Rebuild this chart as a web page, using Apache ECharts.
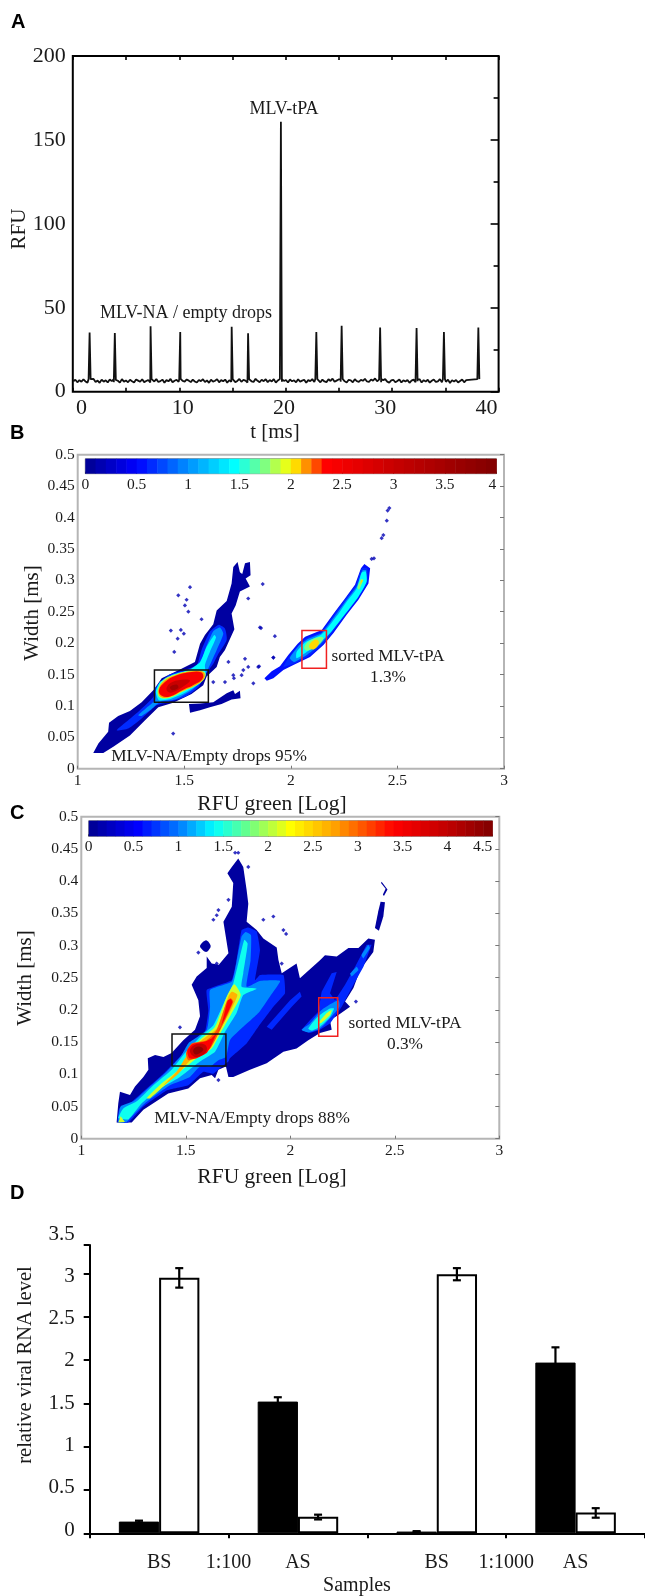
<!DOCTYPE html>
<html><head><meta charset="utf-8">
<style>html,body{margin:0;padding:0;background:#fff}#c{width:645px;height:1596px}</style>
<script src="https://cdn.jsdelivr.net/npm/echarts@6/dist/echarts.min.js"></script>
</head><body><div id="c"></div>
<script>
// ---------- Panel A: trace ----------
const spikeTimes = [0.81,3.3,6.83,9.76,14.84,16.46,19.7,23.2,25.7,29.5,33.1,35.8,39.2];
const spikePeaks = [35.2,35,39,35.5,38.7,34.8,160.9,35.5,39.3,38.3,38,35.5,38.3];
const baselineStart = -0.8, baselineStep = 0.2;
const baselineRFU = [
6.2,7.1,5.6,6.9,5.9,7.4,6.1,5.4,7.0,6.4,7.6,5.8,6.6,5.3,7.2,6.0,6.8,5.5,7.3,6.3,
5.7,7.0,6.5,5.4,7.5,6.0,6.7,5.6,7.1,6.2,5.5,7.3,6.6,5.9,7.4,5.7,6.4,7.0,5.5,6.8,
6.1,7.5,5.8,6.3,7.2,5.4,6.9,6.2,7.6,5.6,6.5,7.1,5.9,7.7,6.4,6.0,7.3,6.6,5.7,7.2,
6.1,5.5,7.0,6.3,7.4,5.8,6.7,5.3,7.1,6.0,6.5,7.5,5.6,6.9,6.2,7.2,5.4,6.8,6.0,7.3,
5.7,6.4,7.6,5.9,7.0,6.6,5.5,7.4,6.2,5.8,7.7,6.5,5.6,7.1,6.3,7.4,5.7,6.9,6.1,7.5,
5.4,6.7,7.2,5.9,6.4,7.0,5.5,7.3,6.2,6.8,5.6,7.4,6.0,6.6,7.1,5.3,6.9,6.3,7.5,5.8,
6.5,7.0,5.6,7.2,6.1,5.7,7.4,6.4,7.8,5.9,6.6,7.3,6.0,7.6,6.2,5.5,7.1,6.8,5.6,7.4,
6.3,5.9,7.0,6.5,7.7,6.1,5.8,7.3,6.6,7.9,6.2,7.2,5.7,6.9,7.5,6.0,5.4,6.7,7.1,5.6,
6.4,7.3,5.5,6.8,6.1,7.0,5.3,6.6,7.2,5.7,6.3,7.4,5.5,6.9,6.0,7.1,5.4,6.5,7.3,5.8,
6.2,7.5,5.6,6.7,5.9,7.2,5.2,6.8,6.1,7.0,5.5,6.4,7.3,5.6,6.9
];
const xTicksLabelA = [0,10,20,30,40];

// ---------- Panel B: contours (RFU green, width) ----------
const bOuter = [[1.073,.025],[1.097,.040],[1.143,.059],[1.147,.073],[1.190,.084],[1.245,.092],[1.300,.106],[1.358,.126],[1.394,.144],[1.480,.158],[1.550,.170],[1.574,.199],[1.597,.213],[1.636,.230],[1.652,.252],[1.699,.267],[1.722,.295],[1.730,.321],[1.750,.329],[1.761,.313],[1.772,.310],[1.785,.327],[1.808,.329],[1.811,.308],[1.788,.303],[1.808,.290],[1.761,.282],[1.741,.260],[1.722,.247],[1.735,.222],[1.691,.189],[1.667,.178],[1.652,.162],[1.605,.147],[1.589,.133],[1.534,.119],[1.448,.105],[1.378,.098],[1.316,.077],[1.245,.053],[1.167,.035],[1.120,.025]];
const bWing = [[1.522,.103],[1.574,.104],[1.636,.106],[1.699,.120],[1.730,.125],[1.738,.119],[1.761,.124],[1.764,.112],[1.722,.110],[1.675,.103],[1.620,.098],[1.574,.093],[1.527,.089]];
const bMainBlue = [[1.183,.061],[1.237,.077],[1.292,.093],[1.355,.114],[1.366,.130],[1.425,.149],[1.488,.156],[1.558,.165],[1.581,.189],[1.620,.218],[1.660,.229],[1.691,.223],[1.699,.205],[1.660,.183],[1.636,.167],[1.597,.149],[1.566,.130],[1.503,.114],[1.425,.106],[1.370,.101],[1.300,.080],[1.237,.064]];
const bMainLight = [[1.284,.085],[1.323,.097],[1.362,.109],[1.370,.128],[1.425,.145],[1.503,.154],[1.574,.165],[1.597,.189],[1.636,.219],[1.667,.225],[1.683,.215],[1.652,.189],[1.620,.165],[1.585,.141],[1.534,.125],[1.456,.110],[1.386,.106],[1.339,.093],[1.300,.084]];
const bMainCyan = [[1.366,.122],[1.386,.138],[1.448,.150],[1.519,.157],[1.574,.170],[1.605,.194],[1.641,.213],[1.649,.209],[1.620,.186],[1.597,.165],[1.600,.149],[1.574,.136],[1.503,.121],[1.425,.110],[1.381,.109]];
const bMainGreen = [[1.375,.125],[1.402,.141],[1.456,.150],[1.534,.156],[1.594,.154],[1.597,.145],[1.566,.135],[1.495,.123],[1.433,.113],[1.386,.113]];
const bMainOrange = [[1.378,.125],[1.406,.140],[1.458,.149],[1.534,.155],[1.589,.154],[1.594,.145],[1.563,.135],[1.494,.124],[1.433,.114],[1.391,.114]];
const bMainRed = [[1.381,.125],[1.409,.138],[1.459,.148],[1.534,.154],[1.581,.153],[1.588,.145],[1.558,.136],[1.491,.125],[1.433,.115],[1.394,.116]];
const bMainDark = [[1.417,.129],[1.444,.138],[1.503,.142],[1.527,.140],[1.495,.131],[1.448,.122],[1.425,.122]];
const bMainPeak = [[1.433,.130],[1.464,.134],[1.472,.129],[1.444,.125]];
const bRightOuter = [[1.876,.144],[1.910,.155],[1.949,.163],[1.988,.181],[2.032,.199],[2.067,.210],[2.145,.221],[2.207,.250],[2.254,.271],[2.301,.293],[2.329,.319],[2.345,.326],[2.372,.319],[2.364,.295],[2.317,.269],[2.262,.245],[2.200,.216],[2.153,.197],[2.090,.178],[2.012,.165],[1.965,.157],[1.918,.144],[1.887,.140]];
const bRightBlue = [[1.965,.162],[1.988,.176],[2.035,.196],[2.074,.208],[2.145,.218],[2.210,.249],[2.258,.271],[2.305,.292],[2.332,.319],[2.358,.319],[2.358,.295],[2.309,.269],[2.254,.244],[2.193,.216],[2.149,.198],[2.086,.180],[2.012,.167]];
const bRightLight = [[1.995,.176],[2.038,.196],[2.077,.206],[2.145,.216],[2.215,.247],[2.262,.269],[2.309,.290],[2.336,.316],[2.354,.316],[2.352,.296],[2.305,.270],[2.246,.244],[2.185,.216],[2.141,.199],[2.078,.182],[2.016,.170]];
const bRightCyan = [[2.027,.186],[2.067,.201],[2.145,.214],[2.215,.243],[2.262,.266],[2.309,.287],[2.332,.312],[2.351,.314],[2.356,.298],[2.317,.274],[2.254,.246],[2.184,.216],[2.129,.199],[2.074,.186],[2.027,.176]];
const bRightGreen = [[2.063,.194],[2.090,.204],[2.142,.210],[2.153,.207],[2.121,.195],[2.074,.188]];
const bTopGreen = [[2.329,.302],[2.340,.301],[2.320,.285],[2.312,.288]];
const bRightCore = [[2.090,.199],[2.110,.205],[2.129,.204],[2.129,.197],[2.106,.190],[2.087,.193]];
const bTopCore = [[2.329,.300],[2.339,.300],[2.326,.293]];
const bSpecks = [[1.472,.276],[1.511,.269],[1.503,.260],[1.527,.289],[1.484,.221],[1.498,.215],[1.437,.220],[1.453,.186],[1.469,.207],[1.730,.149],[1.733,.144],[1.824,.136],[1.707,.170],[1.785,.175],[1.847,.162],[1.800,.162],[1.777,.157],[1.860,.224],[1.925,.211],[1.868,.294],[1.800,.271],[1.581,.238],[1.448,.056],[1.519,.250],[1.636,.138],[1.691,.138],[1.918,.177],[1.769,.149],[2.462,.415],[2.454,.411],[2.450,.395],[2.434,.372],[2.426,.367],[2.390,.335],[2.379,.334],[1.855,.225],[1.918,.177],[1.851,.163]];
const bBoxes = [[1.360,.157,1.613,.106],[2.052,.220,2.167,.160]];

// ---------- Panel C: contours ----------
const cOuter = [[1.169,.025],[1.177,.055],[1.185,.073],[1.233,.068],[1.257,.081],[1.297,.096],[1.321,.107],[1.318,.125],[1.353,.130],[1.393,.127],[1.432,.133],[1.488,.153],[1.544,.169],[1.568,.190],[1.560,.215],[1.528,.239],[1.552,.252],[1.600,.265],[1.600,.283],[1.624,.272],[1.658,.270],[1.704,.288],[1.680,.337],[1.720,.360],[1.727,.397],[1.699,.412],[1.720,.422],[1.751,.435],[1.775,.422],[1.791,.386],[1.799,.365],[1.791,.337],[1.839,.324],[1.871,.311],[1.935,.297],[1.943,.278],[1.959,.257],[2.030,.272],[2.046,.249],[2.142,.277],[2.166,.285],[2.222,.283],[2.278,.296],[2.326,.296],[2.373,.311],[2.405,.309],[2.397,.290],[2.334,.262],[2.302,.234],[2.262,.213],[2.286,.205],[2.230,.192],[2.190,.184],[2.198,.169],[2.142,.164],[2.086,.153],[2.030,.140],[1.967,.135],[1.887,.117],[1.807,.107],[1.727,.096],[1.704,.096],[1.692,.112],[1.656,.107],[1.640,.094],[1.624,.099],[1.568,.094],[1.512,.078],[1.416,.070],[1.297,.045],[1.241,.025]];
const cStrand = [[2.405,.327],[2.421,.353],[2.432,.368],[2.453,.367],[2.445,.345],[2.424,.323]];
const cHook = [[2.437,.399],[2.465,.387],[2.448,.377],[2.443,.379],[2.456,.388],[2.434,.397]];
const cBlob = [[1.568,.299],[1.597,.308],[1.619,.299],[1.597,.290]];
const cBlue = [[1.174,.025],[1.182,.047],[1.233,.055],[1.313,.078],[1.393,.101],[1.472,.127],[1.520,.148],[1.592,.166],[1.608,.200],[1.600,.231],[1.720,.246],[1.743,.277],[1.767,.324],[1.799,.328],[1.839,.322],[1.855,.293],[1.831,.246],[1.855,.254],[1.967,.254],[1.975,.226],[1.919,.205],[1.847,.174],[1.791,.148],[1.711,.125],[1.704,.120],[1.680,.114],[1.632,.101],[1.584,.104],[1.512,.083],[1.408,.075],[1.297,.050],[1.225,.025]];
const cBlueWedge = [[2.054,.169],[2.094,.184],[2.134,.197],[2.150,.228],[2.198,.257],[2.222,.259],[2.190,.226],[2.214,.215],[2.262,.239],[2.310,.267],[2.365,.301],[2.389,.301],[2.350,.267],[2.302,.239],[2.246,.205],[2.190,.179],[2.142,.169],[2.094,.164]];
const cBlueStripe = [[1.887,.174],[1.999,.215],[2.046,.228],[2.054,.221],[2.007,.205],[1.911,.169]];
const cLight = [[1.177,.026],[1.188,.050],[1.249,.058],[1.329,.081],[1.408,.104],[1.480,.130],[1.512,.148],[1.600,.169],[1.616,.205],[1.616,.231],[1.720,.244],[1.743,.275],[1.767,.314],[1.786,.321],[1.812,.316],[1.810,.277],[1.791,.236],[1.855,.245],[1.951,.245],[1.903,.221],[1.847,.195],[1.759,.169],[1.711,.153],[1.692,.127],[1.656,.122],[1.616,.112],[1.568,.112],[1.520,.096],[1.424,.083],[1.305,.055],[1.241,.034],[1.217,.026]];
const cLightRight = [[2.054,.169],[2.094,.179],[2.150,.200],[2.230,.215],[2.235,.205],[2.190,.187],[2.142,.171],[2.086,.165]];
const cLightStreakA = [[2.294,.252],[2.326,.262],[2.318,.267],[2.286,.256]];
const cLightStreakB = [[2.341,.285],[2.373,.301],[2.381,.296],[2.350,.280]];
const cCyan = [[1.177,.032],[1.201,.047],[1.265,.058],[1.345,.083],[1.432,.107],[1.496,.133],[1.568,.158],[1.632,.176],[1.688,.215],[1.727,.241],[1.759,.283],[1.780,.309],[1.796,.303],[1.775,.257],[1.767,.236],[1.839,.233],[1.775,.223],[1.743,.195],[1.688,.166],[1.640,.135],[1.568,.120],[1.472,.096],[1.361,.075],[1.289,.055],[1.225,.030]];
const cCyanRight = [[2.086,.171],[2.134,.190],[2.190,.202],[2.209,.202],[2.190,.189],[2.142,.174],[2.102,.168]];
const cYellowFoot = [[1.177,.025],[1.188,.035],[1.209,.026]];
const cYellow = [[1.313,.063],[1.385,.086],[1.465,.107],[1.512,.133],[1.576,.156],[1.640,.174],[1.696,.221],[1.732,.240],[1.763,.223],[1.720,.195],[1.664,.163],[1.624,.140],[1.552,.125],[1.472,.104],[1.393,.081],[1.329,.063]];
const cYellowRight = [[2.134,.179],[2.174,.195],[2.198,.200],[2.190,.192],[2.150,.180]];
const cOrange = [[1.393,.083],[1.456,.104],[1.501,.127],[1.576,.153],[1.648,.171],[1.704,.221],[1.720,.228],[1.747,.223],[1.704,.192],[1.656,.166],[1.616,.143],[1.536,.127],[1.464,.101],[1.408,.086]];
const cOrangeRed = [[1.501,.133],[1.528,.148],[1.600,.153],[1.648,.169],[1.696,.213],[1.715,.218],[1.727,.213],[1.688,.184],[1.640,.153],[1.616,.140],[1.560,.127],[1.512,.122]];
const cRed = [[1.507,.137],[1.533,.147],[1.592,.151],[1.624,.156],[1.664,.171],[1.700,.214],[1.715,.217],[1.723,.212],[1.683,.184],[1.640,.158],[1.619,.143],[1.600,.133],[1.552,.125],[1.517,.125]];
const cDark = [[1.520,.138],[1.552,.147],[1.592,.146],[1.600,.137],[1.568,.128],[1.536,.128]];
const cPeak = [[1.536,.138],[1.560,.143],[1.584,.139],[1.568,.133],[1.544,.131]];
const cSpecks = [[1.472,.173],[1.656,.355],[1.648,.347],[1.632,.340],[1.704,.371],[1.736,.444],[1.751,.444],[1.799,.422],[1.871,.340],[1.919,.345],[1.560,.289],[1.648,.272],[1.656,.091],[1.967,.324],[1.980,.318],[1.959,.272],[2.314,.213]];
const cBoxes = [[1.434,.1626,1.692,.1129],[2.136,.219,2.227,.159]];

// ---------- Panel D: bars ----------
const samplesD = ['BS','AS','BS','AS'];
const dilutionsD = ['1:100','1:1000'];
const blackBars = [0.135,1.52,0.02,1.97];
const whiteBars = [2.95,0.19,2.99,0.24];
const blackErrHigh = [0.146,1.57,0.025,2.146];
const blackErrLow = [0.125,1.48,0.015,1.90];
const whiteErrHigh = [3.06,0.215,3.06,0.29];
const whiteErrLow = [2.835,0.16,2.92,0.18];
const dTickValues = [0,0.5,1,1.5,2,2.5,3,3.327];

// ---------- Colour maps (value, colour) ----------
const stopsB = [[0,'#00008f'],[.5,'#0000ff'],[1,'#0090ff'],[1.45,'#00ffff'],[1.75,'#80ff80'],[2,'#ffff00'],[2.15,'#ff9000'],[2.35,'#ff0000'],[3,'#c80000'],[4,'#800000']];
const stopsC = [[0,'#00008f'],[.55,'#0000ff'],[1,'#0078ff'],[1.4,'#00ffff'],[1.75,'#60ff90'],[2.25,'#ffff00'],[2.75,'#ffa000'],[3.4,'#ff0000'],[4,'#c00000'],[4.5,'#800000']];

function hex(c){return [1,3,5].map(i=>parseInt(c.substr(i,2),16));}
function colorAt(v,st){
  for(let i=1;i<st.length;i++){ if(v<=st[i][0]){
    const t=(v-st[i-1][0])/(st[i][0]-st[i-1][0]),a=hex(st[i-1][1]),b=hex(st[i][1]);
    return 'rgb('+a.map((x,k)=>Math.round(x+(b[k]-x)*t)).join(',')+')';
  }}
  return st[st.length-1][1];
}

const SERIF='"Liberation Serif","Times New Roman",serif';
const INK='#1a1a1a';
const contoursB=[
 [.08,bOuter,0],[.08,bWing,0],[.55,bRightOuter,0],[.65,bMainBlue,.2],[.65,bRightBlue,.15],[1,bMainLight,.2],[1,bRightLight,.15],
 [1.45,bMainCyan,.2],[1.45,bRightCyan,.2],[1.85,bMainGreen,.4],[1.75,bRightGreen,.4],[1.75,bTopGreen,.2],[2.13,bMainOrange,.4],[2.05,bRightCore,.4],[2.05,bTopCore,0],
 [2.45,bMainRed,.4],[3,bMainDark,.4],[3.5,bMainPeak,.4]
].map(a=>({level:a[0],pts:a[1],smooth:a[2]}));
const contoursC=[
 [.08,cOuter,0],[.08,cStrand,0],[.08,cHook,0],[.08,cBlob,.3],[.7,cBlue,.1],[.7,cBlueWedge,0],[.7,cBlueStripe,0],
 [1.05,cLight,.15],[1.05,cLightRight,.2],[1.05,cLightStreakA,.1],[1.05,cLightStreakB,.1],[1.45,cCyan,.15],[1.45,cCyanRight,.2],
 [2.1,cYellowFoot,0],[2.1,cYellow,.2],[2.1,cYellowRight,.2],[2.65,cOrange,.2],[3.05,cOrangeRed,.2],[3.4,cRed,.2],[3.95,cDark,.4],[4.35,cPeak,.4]
].map(a=>({level:a[0],pts:a[1],smooth:a[2]}));

function contourSeries(list,stops,xi,yi){return {type:'custom',coordinateSystem:'cartesian2d',xAxisIndex:xi,yAxisIndex:yi,silent:true,animation:false,
  data:list.map(c=>c.pts[0]),
  renderItem:(p,api)=>{const c=list[p.dataIndex];return {type:'polygon',shape:{points:c.pts.map(q=>api.coord(q)),smooth:c.smooth},style:{fill:colorAt(c.level,stops)}};}};}
function speckSeries(d,xi,yi){return {type:'scatter',xAxisIndex:xi,yAxisIndex:yi,data:d,symbolSize:4.2,symbol:'diamond',silent:true,animation:false,itemStyle:{color:'#0000b4'}};}
function boxSeries(d,xi,yi){const cols=['#111','#f02020'];return {type:'custom',coordinateSystem:'cartesian2d',xAxisIndex:xi,yAxisIndex:yi,silent:true,animation:false,z:6,data:d,
  renderItem:(p,api)=>{const b=d[p.dataIndex],a=api.coord([b[0],b[1]]),e=api.coord([b[2],b[3]]);return {type:'rect',shape:{x:a[0],y:a[1],width:e[0]-a[0],height:e[1]-a[1]},style:{fill:null,stroke:cols[p.dataIndex],lineWidth:1.5}};}};}
function barSeries(maxV,stops,xi,yi){const step=0.1,n=Math.round(maxV/step),vals=[];for(let i=0;i<n;i++)vals.push(+(i*step).toFixed(1));
  return {type:'custom',coordinateSystem:'cartesian2d',xAxisIndex:xi,yAxisIndex:yi,silent:true,animation:false,data:vals.map(v=>[v,0]),
  renderItem:(p,api)=>{const v=vals[p.dataIndex],a=api.coord([v,1]),e=api.coord([v+step,0]);return {type:'rect',shape:{x:a[0],y:a[1],width:e[0]-a[0]+.5,height:e[1]-a[1]},style:{fill:colorAt(v+step/2,stops)}};}};}
function errSeries(hi,lo,sign,xi,yi){return {type:'custom',coordinateSystem:'cartesian2d',xAxisIndex:xi,yAxisIndex:yi,silent:true,animation:false,z:5,data:hi.map((h,i)=>[i,h,lo[i]]),
  renderItem:(p,api)=>{const i=p.dataIndex,w=api.size([1,0])[0]*0.145*sign,a=api.coord([i,hi[i]]),b=api.coord([i,lo[i]]),x=a[0]+w,s={stroke:'#000',lineWidth:2.2};
   return {type:'group',children:[{type:'line',shape:{x1:x,y1:a[1],x2:x,y2:b[1]},style:s},{type:'line',shape:{x1:x-4,y1:a[1],x2:x+4,y2:a[1]},style:s},{type:'line',shape:{x1:x-4,y1:b[1],x2:x+4,y2:b[1]},style:s}]};}};}

// merge baseline and spikes for trace A
const trace=baselineRFU.map((v,i)=>[+(baselineStart+i*baselineStep).toFixed(2),v]);
spikeTimes.forEach((t,i)=>{trace.push([t-0.1,7.5],[t,spikePeaks[i]],[t+0.1,7.5]);});
trace.sort((a,b)=>a[0]-b[0]);

const W=645,H=1596;
function G(l,r,t,b,border,bw){return {left:l,top:t,width:r-l,height:b-t,show:!!border,borderColor:border||'transparent',borderWidth:bw||0,containLabel:false};}
const off={show:false};
const noLine={show:false,onZero:false};
function labelStyle(fs,m,extra){return Object.assign({show:true,fontFamily:SERIF,fontSize:fs,color:INK,margin:m},extra||{});}

const grids=[
 G(72.8,498.6,56,391.7,'#000',2),   // A
 G(77.7,504,454.7,768.7,'#b5b5b5',2),// B
 G(85.3,496.3,458.7,473.7,'#888',1),// B bar
 G(81.3,499.3,816.7,1138.7,'#b5b5b5',2),// C
 G(88.7,492.3,820.7,836.3,'#888',1),// C bar
 G(89.7,645,1245,1533.3),           // D
 G(89.7,645,1234,1530)              // D label scale
];
const xAxes=[
 {type:'value',gridIndex:0,min:-0.85,max:41.2,axisLine:noLine,axisTick:off,splitLine:off,axisLabel:labelStyle(22,6,{customValues:xTicksLabelA})},
 {type:'value',gridIndex:0,min:0,max:40,interval:5,position:'bottom',axisLine:noLine,axisLabel:off,splitLine:off,axisTick:{show:true,inside:true,length:4,lineStyle:{color:'#000',width:1.6}}},
 {type:'value',gridIndex:0,min:0,max:40,interval:5,position:'top',axisLine:noLine,axisLabel:off,splitLine:off,axisTick:{show:true,inside:true,length:4,lineStyle:{color:'#000',width:1.6}}},
 {type:'value',gridIndex:1,min:1,max:3,interval:.5,position:'bottom',axisLine:noLine,splitLine:off,axisLabel:labelStyle(15.5,4),axisTick:{show:true,inside:true,length:3,lineStyle:{color:'#777'}}},
 {type:'value',gridIndex:2,min:0,max:4,interval:.5,position:'bottom',axisLine:noLine,splitLine:off,axisLabel:labelStyle(15.5,3,{alignMaxLabel:'right'}),axisTick:{show:true,inside:true,length:2,lineStyle:{color:'#444'}}},
 {type:'value',gridIndex:3,min:1,max:3,interval:.5,position:'bottom',axisLine:noLine,splitLine:off,axisLabel:labelStyle(15.5,4),axisTick:{show:true,inside:true,length:3,lineStyle:{color:'#777'}}},
 {type:'value',gridIndex:4,min:0,max:4.5,interval:.5,position:'bottom',axisLine:noLine,splitLine:off,axisLabel:labelStyle(15.5,3,{alignMaxLabel:'right'}),axisTick:{show:true,inside:true,length:2,lineStyle:{color:'#444'}}},
 {type:'category',gridIndex:5,data:samplesD,position:'bottom',axisLine:{show:true,onZero:false,lineStyle:{color:'#000',width:2}},axisTick:{show:true,length:5,lineStyle:{color:'#000',width:2}},splitLine:off,axisLabel:labelStyle(20,19)},
 {type:'category',gridIndex:5,data:dilutionsD,position:'bottom',axisLine:noLine,axisTick:off,splitLine:off,axisLabel:labelStyle(20,19)},
 {type:'value',gridIndex:6,min:0,max:1,show:false}
];
const yAxes=[
 {type:'value',gridIndex:0,min:0,max:200,interval:50,position:'left',axisLine:noLine,axisTick:off,splitLine:off,axisLabel:labelStyle(22,7)},
 {type:'value',gridIndex:0,min:0,max:200,interval:50,position:'right',axisLine:noLine,axisLabel:off,splitLine:off,axisTick:{show:true,inside:true,length:8,lineStyle:{color:'#000',width:1.6}},minorTick:{show:true,splitNumber:2,length:5,lineStyle:{color:'#000',width:1.6}}},
 {type:'value',gridIndex:1,min:0,max:.5,interval:.05,position:'left',axisLine:noLine,axisTick:off,splitLine:off,axisLabel:labelStyle(15.5,3)},
 {type:'value',gridIndex:1,min:0,max:.5,interval:.05,position:'right',axisLine:noLine,axisLabel:off,splitLine:off,axisTick:{show:true,inside:true,length:4,lineStyle:{color:'#777'}}},
 {type:'value',gridIndex:2,min:0,max:1,show:false},
 {type:'value',gridIndex:3,min:0,max:.5,interval:.05,position:'left',axisLine:noLine,axisTick:off,splitLine:off,axisLabel:labelStyle(15.5,3)},
 {type:'value',gridIndex:3,min:0,max:.5,interval:.05,position:'right',axisLine:noLine,axisLabel:off,splitLine:off,axisTick:{show:true,inside:true,length:4,lineStyle:{color:'#777'}}},
 {type:'value',gridIndex:4,min:0,max:1,show:false},
 {type:'value',gridIndex:5,min:0,max:3.327,position:'left',axisLine:{show:true,onZero:false,lineStyle:{color:'#000',width:2}},splitLine:off,axisLabel:off,axisTick:{show:true,length:6,customValues:dTickValues,lineStyle:{color:'#000',width:2}}},
 {type:'value',gridIndex:6,min:0,max:3.5,interval:.5,position:'left',axisLine:noLine,axisTick:off,splitLine:off,axisLabel:labelStyle(21,15)}
];
const series=[
 {type:'line',xAxisIndex:0,yAxisIndex:0,data:trace,showSymbol:false,silent:true,animation:false,lineStyle:{color:'#111',width:1.8}},
 contourSeries(contoursB,stopsB,3,2),speckSeries(bSpecks,3,2),boxSeries(bBoxes,3,2),barSeries(4,stopsB,4,4),
 contourSeries(contoursC,stopsC,5,5),speckSeries(cSpecks,5,5),boxSeries(cBoxes,5,5),barSeries(4.5,stopsC,6,7),
 {type:'bar',xAxisIndex:7,yAxisIndex:8,data:blackBars,barWidth:'29%',barGap:0,silent:true,animation:false,itemStyle:{color:'#000',borderColor:'#000',borderWidth:1}},
 {type:'bar',xAxisIndex:7,yAxisIndex:8,data:whiteBars,barWidth:'29%',barGap:0,silent:true,animation:false,itemStyle:{color:'#fff',borderColor:'#000',borderWidth:2}},
 errSeries(blackErrHigh,blackErrLow,-1,7,8),errSeries(whiteErrHigh,whiteErrLow,1,7,8)
];
function T(t,x,y,fs,opt){opt=opt||{};return {type:'text',x:x,y:y,rotation:opt.rot||0,z:20,silent:true,style:{text:t,fontFamily:opt.fam||SERIF,fontSize:fs,fontWeight:opt.w||'normal',fill:opt.c||INK,align:opt.a||'center',verticalAlign:'middle'}};}
const BOLD={fam:'"Liberation Sans",Arial,sans-serif',w:'bold',c:'#000',a:'left'};
const V={rot:Math.PI/2};
const texts=[
 T('A',11,22,20,BOLD),T('B',10,433,20,BOLD),T('C',10,813,20,BOLD),T('D',10,1193,20,BOLD),
 T('RFU',19,229,21,V),T('t [ms]',275,432,21),T('MLV-tPA',284,109,18),T('MLV-NA / empty drops',186,313,18),
 T('Width [ms]',32,613,21,V),T('RFU green [Log]',272,804,21.5),T('MLV-NA/Empty drops 95%',209,756,17.3),T('sorted MLV-tPA',388,656,17.3),T('1.3%',388,677,17.3),
 T('Width [ms]',25,978,21,V),T('RFU green [Log]',272,1177,21.5),T('MLV-NA/Empty drops 88%',252,1118,17.3),T('sorted MLV-tPA',405,1023,17.3),T('0.3%',405,1044,17.3),
 T('relative viral RNA level',25.5,1365,20.5,V),T('Samples',357,1586,20)
];
const chart=echarts.init(document.getElementById('c'),null,{renderer:'canvas',width:W,height:H});
chart.setOption({animation:false,backgroundColor:'#fff',tooltip:{show:false},grid:grids,xAxis:xAxes,yAxis:yAxes,series:series,graphic:{elements:texts}});
</script></body></html>
